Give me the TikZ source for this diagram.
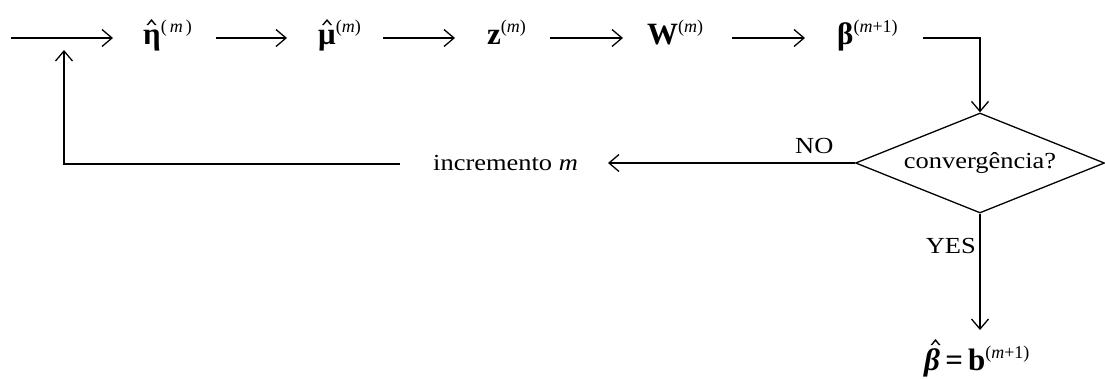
\documentclass[tikz,border=0pt]{standalone}
\usepackage{fontspec}
\setmainfont{Liberation Serif}
\usepackage{graphicx}
\usetikzlibrary{arrows.meta,shapes.geometric}
\newcommand\hs[1]{\scalebox{1.15}[1]{#1}}
\newcommand\supm[1]{\raisebox{12pt}{\fontsize{18}{20}\selectfont\mdseries\upshape #1}}
\newcommand\hatat[3]{\fill[hatmark] ([shift={(#2,#3)}]#1) -- ++(5,-6) -- ++(5,6) -- ++(-1.8,0) -- ++(-3.2,-3.8) -- ++(-3.2,3.8) -- cycle;}
\begin{document}
\begin{tikzpicture}[x=1pt,y=-1pt,
  conn/.style={line width=1.3pt,-{Straight Barb[length=10pt,width=17pt,line width=1.3pt]}},
  hatmark/.style={black},
  sym/.style={inner sep=0pt,anchor=base west,font=\fontsize{31}{35}\selectfont\bfseries},
  txt/.style={inner sep=0pt,font=\fontsize{23}{27}\selectfont}]
\useasboundingbox (0,0) rectangle (1105,378);
% top row symbols
\node[sym] (eta) at (143,44) {η\supm{(\,\textit{m}\,)}};
\node[sym] (mu) at (318,44) {μ\supm{(\textit{m})}};
\node[sym] (z) at (487,44) {z\supm{(\textit{m})}};
\node[sym] (W) at (647,44) {W\supm{(\textit{m})}};
\node[sym] (beta) at (837,44) {β\supm{(\textit{m}+1)}};
% decision
\node[diamond,draw,line width=1.3pt,aspect=2.5,inner sep=0pt,
      minimum width=249pt,minimum height=100pt,txt] (conv) at (980,163) {\hs{convergência?}};
\node[txt,anchor=base west] (inc) at (433,170) {\hs{incremento \textit{m}}};
\node[txt,anchor=base west] (no) at (795,153) {\hs{NO}};
\node[txt,anchor=base east] (yes) at (976,253) {\hs{YES}};
\node[sym] (res) at (924,370) {\textit{β}\,=\,b\supm{(\textit{m}+1)}};
% hats
\hatat{eta.base west}{3.5}{-19}
\hatat{mu.base west}{4}{-19}
\hatat{res.base west}{6.5}{-25}
% arrow end points
\coordinate (s0) at (11,38);   \coordinate (e0) at (113,38);
\coordinate (s1) at (216,38);  \coordinate (e1) at (287,38);
\coordinate (s2) at (383,38);  \coordinate (e2) at (455,38);
\coordinate (s3) at (550,38);  \coordinate (e3) at (623,38);
\coordinate (s4) at (732,38);  \coordinate (e4) at (805,38);
\coordinate (s5) at (923,38);  \coordinate (c5) at (980,38);
\coordinate (noend) at (608,163);
\coordinate (fb) at (400,164); \coordinate (fbc) at (64,164); \coordinate (fbe) at (64,50);
\coordinate (yesend) at (980,330);
% connectors
\draw[conn] (s0) -- (e0);
\draw[conn] (s1) -- (e1);
\draw[conn] (s2) -- (e2);
\draw[conn] (s3) -- (e3);
\draw[conn] (s4) -- (e4);
\draw[conn] (s5) -- (c5) -- (conv.north);
\draw[conn] (conv.west) -- (noend);
\draw[conn] (fb) -- (fbc) -- (fbe);
\draw[conn] (conv.south) -- (yesend);
\end{tikzpicture}
\end{document}
